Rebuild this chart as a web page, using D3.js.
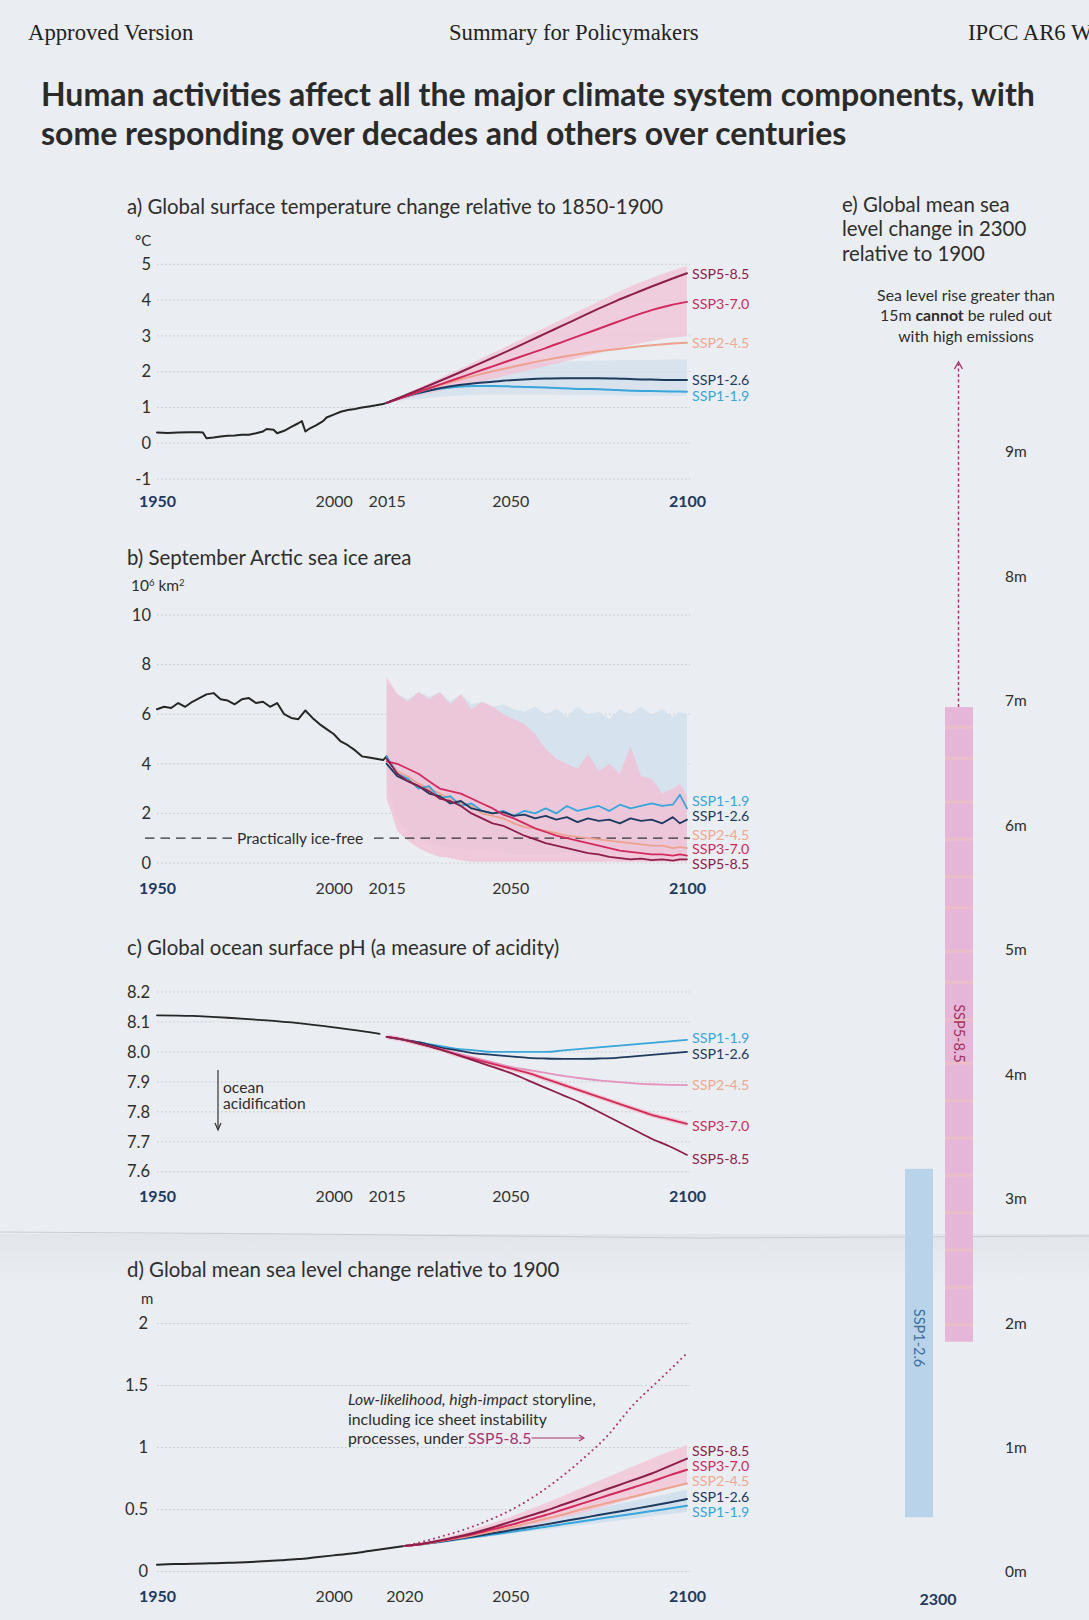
<!DOCTYPE html>
<html><head><meta charset="utf-8">
<script src="https://cdn.jsdelivr.net/npm/d3@7"></script>
<style>
html,body{margin:0;padding:0;background:#eaedf1;overflow:hidden}
svg{display:block}
</style></head><body>
<svg id="c" width="1089" height="1620" font-family="Lato, 'Open Sans', sans-serif"></svg>
<script>
// ---------------- DATA ----------------
const scenarios = ["SSP1-1.9","SSP1-2.6","SSP2-4.5","SSP3-7.0","SSP5-8.5"];
const xTickYears = [1950,2000,2015,2050,2100];
const xTickYearsD = [1950,2000,2020,2050,2100];

// a) temperature
const tempTicks = [-1,0,1,2,3,4,5];
const tempHistYears = [1950,1953,1956,1959,1962,1963,1964,1966,1968,1970,1972,1974,1976,1978,1980,1981,1983,1984,1986,1988,1990,1991,1992,1993,1995,1997,1998,2000,2002,2004,2006,2008,2010,2012,2014,2015];
const tempHist = [0.30,0.29,0.30,0.31,0.31,0.30,0.14,0.16,0.19,0.21,0.22,0.24,0.24,0.28,0.33,0.40,0.38,0.28,0.35,0.46,0.56,0.62,0.33,0.40,0.50,0.62,0.72,0.80,0.88,0.93,0.96,1.00,1.03,1.06,1.10,1.13];
const projYears = [2015,2020,2025,2030,2035,2040,2045,2050,2055,2060,2065,2070,2075,2080,2085,2090,2095,2100];
const tempSSP119 = [1.13,1.30,1.42,1.52,1.58,1.60,1.60,1.59,1.57,1.56,1.54,1.52,1.51,1.49,1.47,1.46,1.45,1.44];
const tempSSP126 = [1.13,1.30,1.43,1.54,1.62,1.68,1.72,1.76,1.79,1.81,1.82,1.82,1.82,1.81,1.79,1.78,1.77,1.77];
const tempSSP245 = [1.13,1.31,1.47,1.62,1.76,1.89,2.01,2.12,2.23,2.33,2.42,2.50,2.57,2.63,2.69,2.74,2.78,2.81];
const tempSSP370 = [1.13,1.30,1.47,1.64,1.81,1.98,2.15,2.32,2.49,2.66,2.84,3.02,3.20,3.38,3.56,3.72,3.85,3.95];
const tempSSP585 = [1.13,1.33,1.53,1.74,1.95,2.17,2.39,2.61,2.84,3.07,3.30,3.53,3.76,3.98,4.18,4.38,4.57,4.75];
const tempBand370Hi = [1.13,1.36,1.59,1.82,2.05,2.28,2.52,2.76,3.00,3.24,3.48,3.72,3.96,4.20,4.42,4.62,4.80,4.95];
const tempBand370Lo = [1.13,1.24,1.35,1.46,1.57,1.68,1.80,1.92,2.04,2.16,2.28,2.40,2.52,2.64,2.76,2.86,2.94,3.00];
const tempBand126Hi = [1.13,1.36,1.57,1.76,1.92,2.04,2.12,2.18,2.23,2.26,2.28,2.30,2.31,2.32,2.33,2.33,2.34,2.34];
const tempBand126Lo = [1.13,1.20,1.25,1.30,1.33,1.35,1.36,1.36,1.36,1.36,1.35,1.35,1.34,1.34,1.33,1.33,1.33,1.33];

// b) sea ice
const iceTicks = [0,2,4,6,8,10];
const iceHistYears = [1950,1952,1954,1956,1958,1960,1962,1964,1966,1968,1970,1972,1974,1976,1978,1980,1982,1984,1986,1988,1990,1992,1994,1996,1998,2000,2002,2004,2006,2008,2010,2012,2014,2015];
const iceHist = [6.20,6.30,6.25,6.45,6.30,6.50,6.65,6.80,6.85,6.60,6.55,6.40,6.60,6.65,6.45,6.50,6.30,6.45,6.00,5.85,5.80,6.15,5.85,5.60,5.40,5.20,4.90,4.75,4.55,4.30,4.25,4.20,4.15,4.30];
const iceYears = [2015,2018,2021,2024,2027,2030,2033,2036,2039,2042,2045,2048,2051,2054,2057,2060,2063,2066,2069,2072,2075,2078,2081,2084,2087,2090,2093,2096,2098,2100];
const iceSSP119 = [4.30,3.60,3.40,3.00,3.10,2.60,2.70,2.30,2.40,2.10,2.00,2.10,1.90,2.10,2.00,2.20,2.00,2.30,2.10,2.20,2.30,2.10,2.35,2.20,2.30,2.40,2.30,2.35,2.75,2.20];
const iceSSP126 = [4.00,3.50,3.30,3.10,2.80,2.70,2.40,2.50,2.20,2.10,2.00,2.05,1.90,1.95,1.80,1.90,1.75,1.85,1.65,1.80,1.70,1.75,1.60,1.80,1.70,1.75,1.60,1.85,1.60,1.75];
const iceSSP245 = [4.20,3.70,3.50,3.20,3.00,2.80,2.60,2.40,2.30,2.00,1.90,1.80,1.60,1.45,1.40,1.30,1.20,1.10,1.05,1.00,0.95,0.90,0.85,0.80,0.75,0.70,0.70,0.60,0.65,0.60];
const iceSSP370 = [4.10,4.00,3.80,3.60,3.30,3.00,2.90,2.80,2.60,2.40,2.20,1.95,1.80,1.60,1.40,1.25,1.10,1.00,0.90,0.80,0.70,0.60,0.50,0.45,0.40,0.35,0.35,0.30,0.35,0.30];
const iceSSP585 = [4.20,3.60,3.30,3.10,2.90,2.60,2.50,2.30,2.00,1.80,1.60,1.50,1.30,1.10,0.95,0.80,0.70,0.60,0.50,0.40,0.35,0.25,0.20,0.15,0.18,0.12,0.15,0.10,0.15,0.15];
const iceBandPinkHi = [7.50,6.80,6.50,6.90,6.60,6.90,6.40,6.80,6.20,6.50,6.30,6.00,5.80,5.60,5.20,4.60,4.20,4.00,3.80,4.40,3.70,4.00,3.60,4.70,3.50,3.40,2.80,3.00,3.20,2.70];
const iceBandPinkLo = [2.60,1.30,0.90,0.60,0.40,0.25,0.20,0.10,0.05,0.05,0.05,0.05,0.05,0.05,0.05,0.05,0.05,0.05,0.05,0.05,0.05,0.05,0.05,0.05,0.05,0.05,0.05,0.05,0.05,0.05];
const iceBandBlueHi = [7.20,6.80,6.60,6.90,6.70,6.90,6.50,6.80,6.40,6.50,6.30,6.40,6.20,6.10,6.30,6.00,6.20,5.90,6.30,6.00,6.10,5.80,6.20,6.00,6.30,6.00,6.20,5.90,6.10,6.00];
const iceBandBlueLo = [3.20,1.80,1.20,1.00,0.80,0.70,0.60,0.60,0.50,0.50,0.45,0.45,0.40,0.40,0.40,0.40,0.40,0.40,0.40,0.40,0.40,0.40,0.40,0.40,0.40,0.40,0.40,0.40,0.40,0.40];
const iceFreeLevel = 1;

// c) pH
const phTicks = [7.6,7.7,7.8,7.9,8.0,8.1,8.2];
const phHistYears = [1950,1960,1970,1980,1990,2000,2010,2013];
const phHist = [8.122,8.120,8.114,8.106,8.096,8.082,8.066,8.060];
const phSSP119 = [8.050,8.040,8.030,8.020,8.010,8.005,8.000,8.000,8.000,8.000,8.005,8.010,8.015,8.020,8.025,8.030,8.035,8.040];
const phSSP126 = [8.050,8.040,8.030,8.015,8.005,7.995,7.990,7.985,7.980,7.978,7.977,7.977,7.978,7.980,7.985,7.990,7.995,8.000];
const phSSP245 = [8.050,8.040,8.025,8.010,7.995,7.980,7.965,7.950,7.940,7.930,7.920,7.912,7.905,7.900,7.895,7.892,7.890,7.889];
const phSSP370 = [8.050,8.040,8.025,8.010,7.990,7.975,7.960,7.945,7.930,7.910,7.890,7.870,7.850,7.830,7.810,7.790,7.775,7.760];
const phSSP585 = [8.050,8.040,8.025,8.008,7.990,7.970,7.950,7.930,7.905,7.880,7.855,7.830,7.800,7.770,7.740,7.710,7.685,7.656];

// d) sea level
const slTicks = [0,0.5,1,1.5,2];
const slHistYears = [1950,1955,1960,1965,1970,1975,1980,1985,1990,1995,2000,2005,2010,2015,2020];
const slHist = [0.055,0.060,0.062,0.066,0.070,0.075,0.082,0.090,0.100,0.115,0.130,0.145,0.165,0.185,0.205];
const slYears = [2020,2025,2030,2035,2040,2045,2050,2055,2060,2065,2070,2075,2080,2085,2090,2095,2100];
const slSSP119 = [0.205,0.219,0.238,0.258,0.278,0.298,0.318,0.339,0.360,0.382,0.404,0.425,0.446,0.466,0.487,0.508,0.530];
const slSSP126 = [0.205,0.220,0.240,0.262,0.285,0.308,0.332,0.356,0.380,0.405,0.430,0.455,0.480,0.505,0.530,0.557,0.585];
const slSSP245 = [0.205,0.220,0.243,0.268,0.295,0.325,0.355,0.390,0.425,0.460,0.500,0.535,0.570,0.605,0.640,0.675,0.710];
const slSSP370 = [0.205,0.222,0.247,0.275,0.305,0.340,0.375,0.415,0.455,0.500,0.545,0.590,0.635,0.680,0.725,0.775,0.820];
const slSSP585 = [0.205,0.223,0.250,0.280,0.315,0.355,0.400,0.445,0.490,0.540,0.590,0.640,0.690,0.740,0.790,0.850,0.910];
const slBandPinkHi = [0.205,0.230,0.265,0.300,0.345,0.390,0.440,0.495,0.550,0.610,0.670,0.730,0.790,0.850,0.910,0.965,1.020];
const slBandPinkLo = [0.205,0.215,0.235,0.255,0.280,0.305,0.335,0.365,0.400,0.435,0.470,0.510,0.550,0.590,0.630,0.670,0.700];
const slBandBlueHi = [0.205,0.225,0.250,0.275,0.300,0.330,0.360,0.390,0.420,0.450,0.480,0.510,0.540,0.570,0.600,0.630,0.660];
const slBandBlueLo = [0.205,0.215,0.230,0.248,0.266,0.284,0.302,0.320,0.338,0.356,0.374,0.392,0.410,0.428,0.446,0.464,0.480];
const storyYears = [2020,2029,2041,2053,2062,2071,2077,2085,2092,2100];
const storyValues = [0.205,0.27,0.38,0.54,0.71,0.92,1.08,1.35,1.54,1.76];

// e) sea level 2300
const eTicks = [0,1,2,3,4,5,6,7,8,9];
const e2300Names = ["SSP1-2.6","SSP5-8.5"];
const e2300Low = [0.44,1.85];
const e2300High = [3.24,6.95];

// ---------------- STYLE / LAYOUT ----------------
const col = {"SSP1-1.9":"#38a6da","SSP1-2.6":"#1e3a5f","SSP2-4.5":"#eca28e","SSP3-7.0":"#d22a5c","SSP5-8.5":"#8c1e4a"};
const labelColor = {"SSP1-1.9":"#38a6da","SSP1-2.6":"#1e3a5f","SSP2-4.5":"#f0a890","SSP3-7.0":"#cc2c5c","SSP5-8.5":"#8c1e4a"};
const txt = "#2e2e2e";
const svg = d3.select("#c");
const x = d3.scaleLinear().domain([1950,2100]).range([157,687]);
const zip = (xs, ys) => xs.map((v,i)=>[v, ys[i]]);
const serif = "'Liberation Serif','DejaVu Serif',serif";

// paper crease (subtle)
const defs = svg.append("defs");
const gr = defs.append("linearGradient").attr("id","crease").attr("x1",0).attr("y1",0).attr("x2",0).attr("y2",1);
gr.append("stop").attr("offset",0).attr("stop-color","#b8bcc4").attr("stop-opacity",0.16);
gr.append("stop").attr("offset",1).attr("stop-color","#b8bcc4").attr("stop-opacity",0);
svg.append("rect").attr("x",0).attr("y",1234).attr("width",1089).attr("height",50).attr("fill","url(#crease)");
svg.append("path").attr("d","M0,1232 L300,1234 L700,1238 L1089,1236").attr("fill","none").attr("stroke","#c9ccd2").attr("stroke-width",1);

// header
svg.append("text").attr("x",28).attr("y",40).attr("font-family",serif).attr("font-size",22.7).attr("fill","#222").text("Approved Version");
svg.append("text").attr("x",449).attr("y",40).attr("font-family",serif).attr("font-size",22.7).attr("fill","#222").text("Summary for Policymakers");
svg.append("text").attr("x",968).attr("y",40).attr("font-family",serif).attr("font-size",22.7).attr("fill","#222").text("IPCC AR6 WGI");
svg.append("text").attr("x",41).attr("y",106).attr("font-size",32).attr("font-weight",700).attr("fill","#2a2a2a").text("Human activities affect all the major climate system components, with");
svg.append("text").attr("x",41).attr("y",145).attr("font-size",32).attr("font-weight",700).attr("fill","#2a2a2a").text("some responding over decades and others over centuries");

function panelTitle(t, cy){
  svg.append("text").attr("x",127).attr("y",cy).attr("dy","0.35em").attr("font-size",20.4).attr("fill",txt).text(t);
}
function grid(y, ticks){
  svg.append("g").selectAll("line").data(ticks).join("line")
    .attr("x1",157).attr("x2",690).attr("y1",d=>y(d)).attr("y2",d=>y(d))
    .attr("stroke","#c4c8cf").attr("stroke-width",1).attr("stroke-dasharray","1.5,2.5");
}
function yAxis(y, ticks, fmt, xr){
  const ax = d3.axisLeft(y).tickValues(ticks).tickFormat(fmt).tickSize(0).tickPadding(0);
  const g = svg.append("g").attr("transform",`translate(${xr},0)`).call(ax);
  g.select(".domain").remove();
  g.selectAll("text").attr("font-family","Lato").attr("font-size",16.5).attr("fill",txt);
}
function xAxis(years, cy){
  const ax = d3.axisBottom(x).tickValues(years).tickFormat(d3.format("d")).tickSize(0).tickPadding(0);
  const g = svg.append("g").attr("transform",`translate(0,${cy-8})`).call(ax);
  g.select(".domain").remove();
  g.selectAll("text").attr("font-family","Lato").attr("font-size",16)
    .attr("font-weight",d=>(d===1950||d===2100)?700:400)
    .attr("fill",d=>(d===1950||d===2100)?"#22395e":"#333");
}
function line(y, pts, color, w, curve){
  svg.append("path").datum(pts).attr("fill","none").attr("stroke",color).attr("stroke-width",w)
    .attr("stroke-linejoin","round").attr("stroke-linecap","round")
    .attr("d", d3.line().x(d=>x(d[0])).y(d=>y(d[1])).curve(curve||d3.curveLinear));
}
function band(y, xs, lo, hi, color, op, curve){
  svg.append("path").datum(xs.map((v,i)=>[v,lo[i],hi[i]])).attr("fill",color).attr("fill-opacity",op)
    .attr("d", d3.area().x(d=>x(d[0])).y0(d=>y(d[1])).y1(d=>y(d[2])).curve(curve||d3.curveLinear));
}
function labels(list){
  list.forEach(([name, cy])=>{
    svg.append("text").attr("x",692).attr("y",cy).attr("dy","0.35em").attr("font-size",14.2)
      .attr("fill",labelColor[name]).text(name);
  });
}
const plain = d => String(d);

// ---------- a ----------
panelTitle("a) Global surface temperature change relative to 1850-1900", 207);
svg.append("text").attr("x",135).attr("y",241).attr("dy","0.35em").attr("font-size",15).attr("fill",txt).text("°C");
const yA = d3.scaleLinear().domain([-1,5]).range([479.1,264.3]);
grid(yA, tempTicks);
yAxis(yA, tempTicks, plain, 151);
xAxis(xTickYears, 504);
const mc = d3.curveMonotoneX;
band(yA, projYears, tempBand126Lo, tempBand126Hi, "#cddcec", 0.6, mc);
band(yA, projYears, tempBand370Lo, tempBand370Hi, "#f2c2d4", 0.75, mc);
line(yA, zip(tempHistYears,tempHist), "#262626", 2);
line(yA, zip(projYears,tempSSP119), col["SSP1-1.9"], 2, mc);
line(yA, zip(projYears,tempSSP126), col["SSP1-2.6"], 2, mc);
line(yA, zip(projYears,tempSSP245), col["SSP2-4.5"], 2, mc);
line(yA, zip(projYears,tempSSP370), col["SSP3-7.0"], 2, mc);
line(yA, zip(projYears,tempSSP585), col["SSP5-8.5"], 2, mc);
labels([["SSP5-8.5",274],["SSP3-7.0",304],["SSP2-4.5",343],["SSP1-2.6",380],["SSP1-1.9",396]]);

// ---------- b ----------
panelTitle("b) September Arctic sea ice area", 558);
const unitB = svg.append("text").attr("x",131).attr("y",586).attr("dy","0.35em").attr("font-size",15.5).attr("fill",txt);
unitB.append("tspan").text("10");
unitB.append("tspan").attr("font-size",9.5).attr("dy","-5").text("6");
unitB.append("tspan").attr("dy","5").text(" km");
unitB.append("tspan").attr("font-size",9.5).attr("dy","-5").text("2");
const yB = d3.scaleLinear().domain([0,10]).range([863,615]);
grid(yB, iceTicks);
yAxis(yB, iceTicks, plain, 151);
xAxis(xTickYears, 891);
band(yB, iceYears, iceBandBlueLo, iceBandBlueHi, "#d2e0ee", 0.85);
band(yB, iceYears, iceBandPinkLo, iceBandPinkHi, "#f1bfd4", 0.8);
// practically ice-free
const yIF = yB(iceFreeLevel);
svg.append("line").attr("x1",145).attr("x2",232).attr("y1",yIF).attr("y2",yIF).attr("stroke","#333").attr("stroke-width",1.3).attr("stroke-dasharray","9.5,6");
svg.append("line").attr("x1",374).attr("x2",690).attr("y1",yIF).attr("y2",yIF).attr("stroke","#333").attr("stroke-width",1.3).attr("stroke-dasharray","9.5,6");
svg.append("text").attr("x",237).attr("y",yIF).attr("dy","0.35em").attr("font-size",15.6).attr("fill",txt).text("Practically ice-free");
line(yB, zip(iceHistYears,iceHist), "#262626", 2);
line(yB, zip(iceYears,iceSSP245), col["SSP2-4.5"], 1.8);
line(yB, zip(iceYears,iceSSP119), col["SSP1-1.9"], 1.8);
line(yB, zip(iceYears,iceSSP126), col["SSP1-2.6"], 1.8);
line(yB, zip(iceYears,iceSSP370), col["SSP3-7.0"], 1.8);
line(yB, zip(iceYears,iceSSP585), col["SSP5-8.5"], 1.8);
labels([["SSP1-1.9",801],["SSP1-2.6",816],["SSP2-4.5",835],["SSP3-7.0",849],["SSP5-8.5",864]]);

// ---------- c ----------
panelTitle("c) Global ocean surface pH (a measure of acidity)", 948);
const yC = d3.scaleLinear().domain([7.6,8.2]).range([1171.7,992]);
grid(yC, phTicks);
yAxis(yC, phTicks, d3.format(".1f"), 150);
xAxis(xTickYears, 1199);
band(yC, projYears, phSSP370.map(v=>v-0.008), phSSP370.map(v=>v+0.008), "#f4b7c4", 0.7, mc);
line(yC, zip(phHistYears,phHist), "#262626", 1.8, mc);
line(yC, zip(projYears,phSSP119), col["SSP1-1.9"], 1.8, mc);
line(yC, zip(projYears,phSSP126), col["SSP1-2.6"], 1.8, mc);
line(yC, zip(projYears,phSSP245), "#e493c0", 1.8, mc);
line(yC, zip(projYears,phSSP370), col["SSP3-7.0"], 1.8, mc);
line(yC, zip(projYears,phSSP585), col["SSP5-8.5"], 1.8, mc);
labels([["SSP1-1.9",1038],["SSP1-2.6",1054],["SSP2-4.5",1085],["SSP3-7.0",1126],["SSP5-8.5",1159]]);
// ocean acidification arrow
svg.append("line").attr("x1",218).attr("x2",218).attr("y1",1070).attr("y2",1128).attr("stroke","#333").attr("stroke-width",1.2);
svg.append("path").attr("d","M215,1123 L218,1130 L221,1123").attr("fill","none").attr("stroke","#333").attr("stroke-width",1.2);
svg.append("text").attr("x",223).attr("y",1088).attr("dy","0.35em").attr("font-size",15.6).attr("fill",txt).text("ocean");
svg.append("text").attr("x",223).attr("y",1104).attr("dy","0.35em").attr("font-size",15.6).attr("fill",txt).text("acidification");

// ---------- d ----------
panelTitle("d) Global mean sea level change relative to 1900", 1270);
svg.append("text").attr("x",141).attr("y",1299).attr("dy","0.35em").attr("font-size",15).attr("fill",txt).text("m");
const yD = d3.scaleLinear().domain([0,2]).range([1571.5,1323.5]);
grid(yD, slTicks);
yAxis(yD, slTicks, plain, 148);
xAxis(xTickYearsD, 1599);
band(yD, slYears, slBandBlueLo, slBandBlueHi, "#c9dbec", 0.7, mc);
band(yD, slYears, slBandPinkLo, slBandPinkHi, "#f3c3d4", 0.8, mc);
line(yD, zip(slHistYears,slHist), "#262626", 2, mc);
line(yD, zip(slYears,slSSP119), col["SSP1-1.9"], 2, mc);
line(yD, zip(slYears,slSSP126), col["SSP1-2.6"], 2, mc);
line(yD, zip(slYears,slSSP245), col["SSP2-4.5"], 2, mc);
line(yD, zip(slYears,slSSP370), col["SSP3-7.0"], 2, mc);
line(yD, zip(slYears,slSSP585), col["SSP5-8.5"], 2, mc);
svg.append("path").datum(zip(storyYears,storyValues)).attr("fill","none").attr("stroke","#a83a6e")
  .attr("stroke-width",2).attr("stroke-dasharray","0.1,5").attr("stroke-linecap","round")
  .attr("d", d3.line().x(d=>x(d[0])).y(d=>yD(d[1])).curve(d3.curveMonotoneX));
labels([["SSP5-8.5",1451],["SSP3-7.0",1466],["SSP2-4.5",1481],["SSP1-2.6",1497],["SSP1-1.9",1512]]);
// annotation
const a1 = svg.append("text").attr("x",348).attr("y",1399).attr("dy","0.35em").attr("font-size",15.8).attr("fill",txt);
a1.append("tspan").attr("font-style","italic").text("Low-likelihood, high-impact");
a1.append("tspan").text(" storyline,");
svg.append("text").attr("x",348).attr("y",1419).attr("dy","0.35em").attr("font-size",15.8).attr("fill",txt).text("including ice sheet instability");
const a3 = svg.append("text").attr("x",348).attr("y",1438).attr("dy","0.35em").attr("font-size",15.8).attr("fill",txt);
a3.append("tspan").text("processes, under ");
a3.append("tspan").attr("fill","#a8336a").text("SSP5-8.5");
const a3end = 348 + a3.node().getComputedTextLength();
svg.append("line").attr("x1",a3end).attr("x2",583).attr("y1",1438).attr("y2",1438).attr("stroke","#a8336a").attr("stroke-width",1.1);
svg.append("path").attr("d","M579,1435 L584,1438 L579,1441").attr("fill","none").attr("stroke","#a8336a").attr("stroke-width",1.1);

// ---------- e ----------
["e) Global mean sea","level change in 2300","relative to 1900"].forEach((t,i)=>{
  svg.append("text").attr("x",842).attr("y",[205,229,254][i]).attr("dy","0.35em").attr("font-size",20.4).attr("fill",txt).text(t);
});
const noteE = [["Sea level rise greater than"],["15m ","cannot"," be ruled out"],["with high emissions"]];
noteE.forEach((parts,i)=>{
  const t = svg.append("text").attr("x",966).attr("y",[295,315,336][i]).attr("dy","0.35em").attr("text-anchor","middle").attr("font-size",15.8).attr("fill",txt);
  parts.forEach(p=>t.append("tspan").attr("font-weight",p==="cannot"?700:400).text(p));
});
const yE = d3.scaleLinear().domain([0,9]).range([1572,452]);
const xE = d3.scaleBand().domain(e2300Names).range([905,973]).paddingInner(0.3).paddingOuter(0);
const eFill = {"SSP1-2.6":"#b9d4ea","SSP5-8.5":"#e6b6d8"};
const eText = {"SSP1-2.6":"#3f6e9e","SSP5-8.5":"#a8305e"};
const eLabelShift = {"SSP1-2.6":-5,"SSP5-8.5":9};
e2300Names.forEach((n,i)=>{
  svg.append("rect").attr("x",xE(n)).attr("width",xE.bandwidth()).attr("y",yE(e2300High[i])).attr("height",yE(e2300Low[i])-yE(e2300High[i])).attr("fill",eFill[n]);
});
// faint stripes on SSP5-8.5 bar
const i585 = e2300Names.indexOf("SSP5-8.5");
const stripeVals = [6.8,6.55,6.2,5.9,5.6,5.35,5.0,4.75,4.45,4.1,3.8,3.5,3.2,2.9,2.6,2.3,2.0];
svg.append("g").selectAll("rect").data(stripeVals).join("rect")
  .attr("x",xE("SSP5-8.5")).attr("width",xE.bandwidth()).attr("y",d=>yE(d)).attr("height",3)
  .attr("fill","#f1c4bc").attr("opacity",0.55);
e2300Names.forEach((n,i)=>{
  const cx = xE(n)+xE.bandwidth()/2, cy = yE((e2300Low[i]+e2300High[i])/2) + eLabelShift[n];
  svg.append("text").attr("transform",`translate(${cx},${cy}) rotate(90)`).attr("text-anchor","middle").attr("dy","0.35em")
    .attr("font-size",14.5).attr("fill",eText[n]).text(n);
});
// dashed arrow above SSP5-8.5
const ax585 = xE("SSP5-8.5")+xE.bandwidth()/2 - 0.5;
svg.append("line").attr("x1",ax585).attr("x2",ax585).attr("y1",yE(e2300High[i585])).attr("y2",364).attr("stroke","#a8336a").attr("stroke-width",1.4).attr("stroke-dasharray","3,2.5");
svg.append("path").attr("d",`M${ax585-4},369 L${ax585},362 L${ax585+4},369`).attr("fill","none").attr("stroke","#a8336a").attr("stroke-width",1.4);
// e tick labels
svg.append("g").selectAll("text").data(eTicks).join("text")
  .attr("x",1005).attr("y",d=>yE(d)).attr("dy","0.35em").attr("font-size",15.5).attr("fill",txt).text(d=>d+"m");
svg.append("text").attr("x",938).attr("y",1599).attr("dy","0.35em").attr("text-anchor","middle")
  .attr("font-size",16).attr("font-weight",700).attr("fill","#22395e").text("2300");
</script>
</body></html>
